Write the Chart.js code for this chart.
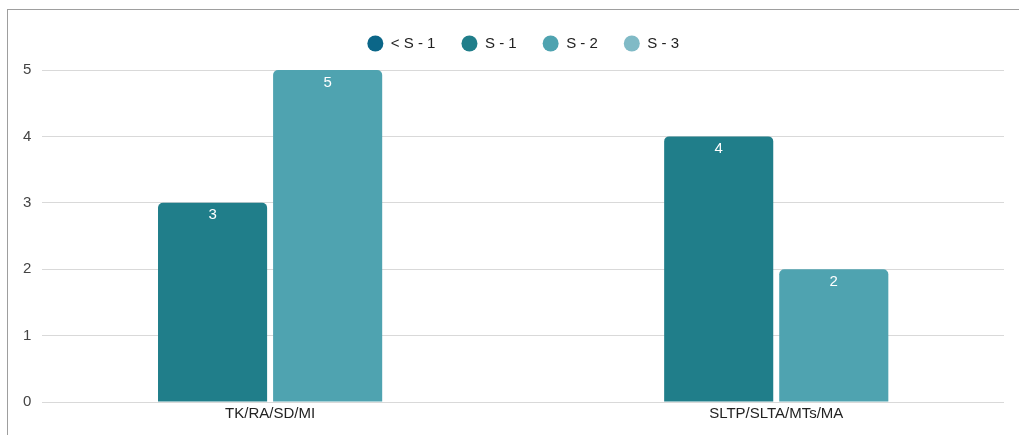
<!DOCTYPE html>
<html>
<head>
<meta charset="utf-8">
<script src="https://cdn.jsdelivr.net/npm/chart.js@4.4.1/dist/chart.umd.min.js"></script>
<style>
  html, body { margin: 0; padding: 0; background: #fff; }
  #wrap { position: relative; width: 1019px; height: 435px; overflow: hidden; }
  #frameTop { position: absolute; left: 7px; top: 9px; right: 0; height: 1px; background: #9e9e9e; }
  #frameLeft { position: absolute; left: 7px; top: 9px; bottom: 0; width: 1px; background: #9e9e9e; }
  canvas { position: absolute; left: 0; top: 0; }
</style>
</head>
<body>
<div id="wrap">
  <canvas id="levelChart" width="1019" height="435"></canvas>
  <div id="frameTop"></div>
  <div id="frameLeft"></div>
</div>
<script>
// data
const categories = ["TK/RA/SD/MI", "SLTP/SLTA/MTs/MA"];
const seriesNames = ["< S - 1", "S - 1", "S - 2", "S - 3"];
const belowS1 = [null, null];
const s1 = [3, 4];
const s2 = [5, 2];
const s3 = [null, null];
const yTickMax = 5;
const seriesColors = ["#0b6688", "#207e8a", "#4fa3b0", "#80bac6"];

const fontFamily = "'Liberation Sans', Arial, sans-serif";
const seriesData = [belowS1, s1, s2, s3];

// value labels drawn inside the top of each bar
const barValueLabels = {
    id: "barValueLabels",
    afterDatasetsDraw(chart) {
        const ctx = chart.ctx;
        ctx.save();
        ctx.font = "15px " + fontFamily;
        ctx.fillStyle = "#ffffff";
        ctx.textAlign = "center";
        ctx.textBaseline = "top";
        chart.data.datasets.forEach((ds, i) => {
            const meta = chart.getDatasetMeta(i);
            meta.data.forEach((bar, j) => {
                const v = seriesData[i][j];
                if (v === null || v === undefined) return;
                ctx.fillText(String(v), bar.x, bar.y + 5);
            });
        });
        ctx.restore();
    }
};

// a bit more room between legend and plot
const legendSpacing = {
    id: "legendSpacing",
    beforeInit(chart) {
        const origFit = chart.legend.fit;
        chart.legend.fit = function fit() {
            origFit.bind(chart.legend)();
            this.height += 9;
        };
    }
};

const ctx = document.getElementById("levelChart").getContext("2d");
new Chart(ctx, {
    type: "bar",
    data: {
        datasets: seriesNames.map((name, i) => ({
            label: name,
            data: seriesData[i].map((v, j) => ({ x: j, y: v })),
            backgroundColor: seriesColors[i],
            borderRadius: { topLeft: 5, topRight: 5, bottomLeft: 0, bottomRight: 0 },
            borderSkipped: "start",
            categoryPercentage: 0.9095,
            barPercentage: 0.948,
        })),
    },
    options: {
        responsive: false,
        animation: false,
        layout: {
            padding: { left: 12, right: 15, top: 10, bottom: 9 },
        },
        plugins: {
            legend: {
                display: true,
                position: "top",
                align: "center",
                fullSize: false,
                labels: {
                    usePointStyle: true,
                    pointStyle: "circle",
                    pointStyleWidth: 16,
                    boxHeight: 11.3,
                    padding: 26,
                    color: "#222222",
                    font: { family: fontFamily, size: 15 },
                },
            },
            tooltip: { enabled: false },
        },
        scales: {
            x: {
                type: "linear",
                offset: false,
                min: -0.45,
                max: 1.45,
                grid: { display: false, drawTicks: false, offset: false },
                border: { display: false },
                ticks: {
                    stepSize: 1,
                    includeBounds: false,
                    padding: 3,
                    color: "#222222",
                    font: { family: fontFamily, size: 15 },
                    callback: (value) => categories[value] ?? "",
                },
            },
            y: {
                min: 0,
                max: yTickMax,
                grid: { color: "#d9d9d9", drawTicks: false },
                border: { display: false },
                ticks: {
                    stepSize: 1,
                    padding: 11,
                    color: "#444444",
                    font: { family: fontFamily, size: 15 },
                },
            },
        },
    },
    plugins: [barValueLabels, legendSpacing],
});
</script>
</body>
</html>
